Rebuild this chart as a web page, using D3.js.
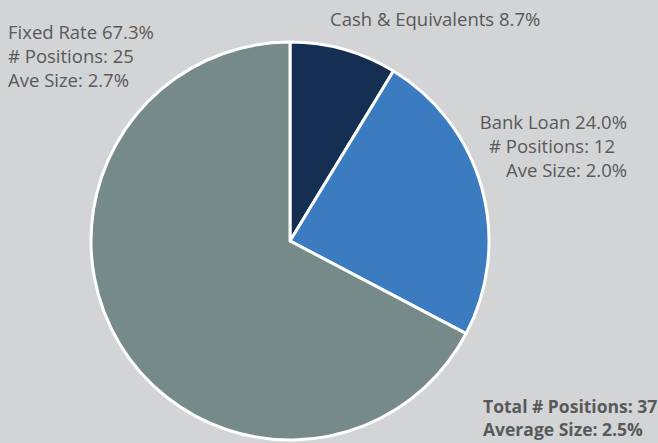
<!DOCTYPE html>
<html>
<head>
<script src="https://d3js.org/d3.v7.min.js"></script>
<style>
  body { margin: 0; background: #d3d4d6; }
  text { font-family: "Open Sans", Lato, sans-serif; fill: #595959; }
</style>
</head>
<body>
<svg width="658" height="443" id="mainSvg"></svg>
<script>
const categories = ["Cash & Equivalents", "Bank Loan", "Fixed Rate"]
const shares = [8.7, 24.0, 67.3]
const positions = [null, 12, 25]
const aveSizes = [null, 2.0, 2.7]
const colors = ["#142f51", "#3b7cc1", "#768a8a"]
const totalPositions = 37
const averageSize = 2.5

const svg = d3.select("#mainSvg")
const cx = 290, cy = 241, radius = 199

const data = categories.map((c, i) => ({name: c, value: shares[i], pos: positions[i], size: aveSizes[i], color: colors[i]}))

const pie = d3.pie().sort(null).value(d => d.value)
const arc = d3.arc().innerRadius(0).outerRadius(radius)

const g = svg.append("g").attr("transform", `translate(${cx},${cy})`)
g.selectAll("path").data(pie(data)).enter().append("path")
  .attr("d", arc)
  .attr("fill", d => d.data.color)
  .attr("stroke", "#fff")
  .attr("stroke-width", 3)
  .attr("stroke-linejoin", "round")

const fmt = d3.format(".1f")
const fs = 18.5

// labels
svg.append("text").attr("x", 330).attr("y", 26).attr("font-size", fs)
  .text(`${data[0].name} ${fmt(data[0].value)}%`)

const bank = svg.append("text").attr("font-size", fs).attr("text-anchor", "end")
bank.append("tspan").attr("x", 627).attr("y", 129).text(`${data[1].name} ${fmt(data[1].value)}%`)
bank.append("tspan").attr("x", 615).attr("y", 153).text(`# Positions: ${data[1].pos}`)
bank.append("tspan").attr("x", 627).attr("y", 177).text(`Ave Size: ${fmt(data[1].size)}%`)

const fixed = svg.append("text").attr("font-size", fs)
fixed.append("tspan").attr("x", 8).attr("y", 39).text(`${data[2].name} ${fmt(data[2].value)}%`)
fixed.append("tspan").attr("x", 8).attr("y", 63).text(`# Positions: ${data[2].pos}`)
fixed.append("tspan").attr("x", 8).attr("y", 87).text(`Ave Size: ${fmt(data[2].size)}%`)

const tot = svg.append("text").attr("font-size", 17.5).attr("font-weight", "bold")
tot.append("tspan").attr("x", 483).attr("y", 413).text(`Total # Positions: ${totalPositions}`)
tot.append("tspan").attr("x", 483).attr("y", 436).text(`Average Size: ${fmt(averageSize)}%`)
</script>
</body>
</html>
